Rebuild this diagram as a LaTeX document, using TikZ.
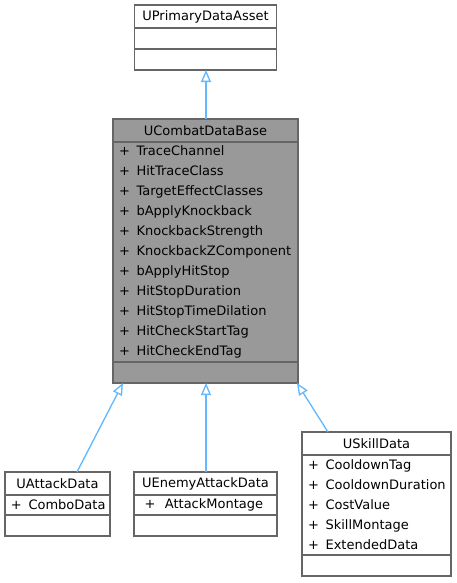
\documentclass[tikz,border=0pt]{standalone}
\usepackage{fontspec}
\setmainfont{DejaVu Sans}
\usetikzlibrary{positioning,arrows.meta}
\definecolor{edgeblue}{HTML}{63B8FF}
\definecolor{boxborder}{HTML}{666666}
\definecolor{basefill}{HTML}{999999}
\newcommand{\umember}[1]{\mbox{+\hspace{5pt}#1}}

\begin{document}
\begin{tikzpicture}[
    x=0.75pt, y=-0.75pt,
    >={Triangle[open,length=9pt,width=7.5pt]},
    part/.style={
        rectangle, draw=boxborder, fill=white, line width=0.9pt,
        inner sep=0pt, outer sep=0pt,
        font=\fontsize{9.75pt}{15pt}\selectfont
    },
    % compartments of a class box
    title/.style={part, minimum height=17.25pt, align=center},
    empty/.style={part, minimum height=15.75pt},
    members/.style={part, align=left, inner xsep=4.5pt},
    focus/.style={fill=basefill},   % the class the diagram is about
    inherit/.style={->, draw=edgeblue, line width=1pt}
]
    \useasboundingbox (0,0) rectangle (457,583);

    % --- the base class ---
    \node[title, focus, minimum width=138.75pt, anchor=north] (BaseTitle) at (205.5,119) {UCombatDataBase};
    \node[members, focus, minimum width=138.75pt, text width=129.75pt, minimum height=165pt] (BaseAttr) [below=0pt of BaseTitle]
        {\umember{TraceChannel}\\ \umember{HitTraceClass}\\ \umember{TargetEffectClasses}\\
         \umember{bApplyKnockback}\\ \umember{KnockbackStrength}\\ \umember{KnockbackZComponent}\\
         \umember{bApplyHitStop}\\ \umember{HitStopDuration}\\ \umember{HitStopTimeDilation}\\
         \umember{HitCheckStartTag}\\ \umember{HitCheckEndTag}};
    \node[empty, focus, minimum width=138.75pt] (BaseOps) [below=0pt of BaseAttr] {};

    % --- parent class above ---
    \node[empty, minimum width=106.5pt] (AssetOps) [above=36.75pt of BaseTitle] {};
    \node[empty, minimum width=106.5pt] (AssetAttr) [above=0pt of AssetOps] {};
    \node[title, minimum width=106.5pt] (AssetTitle) [above=0pt of AssetAttr] {UPrimaryDataAsset};

    % --- derived classes below ---
    \node[title, minimum width=107.25pt] (EnemyTitle) [below=66.75pt of BaseOps] {UEnemyAttackData};
    \node[members, minimum width=107.25pt, text width=98.25pt, minimum height=15pt] (EnemyAttr) [below=0pt of EnemyTitle]
        {\mbox{\hspace{3.5pt}+\hspace{7pt}AttackMontage}};
    \node[empty, minimum width=107.25pt] (EnemyOps) [below=0pt of EnemyAttr] {};

    \node[title, minimum width=78.75pt] (AttackTitle) [left=18pt of EnemyTitle] {UAttackData};
    \node[members, minimum width=78.75pt, text width=69.75pt, minimum height=15pt] (AttackAttr) [below=0pt of AttackTitle]
        {\umember{ComboData}};
    \node[empty, minimum width=78.75pt] (AttackOps) [below=0pt of AttackAttr] {};

    \node[title, minimum width=111.75pt] (SkillTitle) [right=18.75pt of EnemyTitle.north east, anchor=north west, yshift=30pt] {USkillData};
    \node[members, minimum width=111.75pt, text width=102.75pt, minimum height=75pt] (SkillAttr) [below=0pt of SkillTitle]
        {\umember{CooldownTag}\\ \umember{CooldownDuration}\\ \umember{CostValue}\\
         \umember{SkillMontage}\\ \umember{ExtendedData}};
    \node[empty, minimum width=111.75pt] (SkillOps) [below=0pt of SkillAttr] {};

    % --- inheritance edges ---
    % half a pixel to the right keeps the vertical ones crisp
    \draw[inherit] ([xshift=0.375pt]BaseTitle.north) -- ([xshift=0.375pt]AssetOps.south);
    \draw[inherit] ([xshift=14.6pt]AttackTitle.north) -- ([xshift=-61.9pt]BaseOps.south);
    \draw[inherit] ([xshift=0.375pt]EnemyTitle.north) -- ([xshift=0.375pt]BaseOps.south);
    \draw[inherit] ([xshift=-36.4pt]SkillTitle.north) -- ([xshift=68.6pt]BaseOps.south);

\end{tikzpicture}
\end{document}
